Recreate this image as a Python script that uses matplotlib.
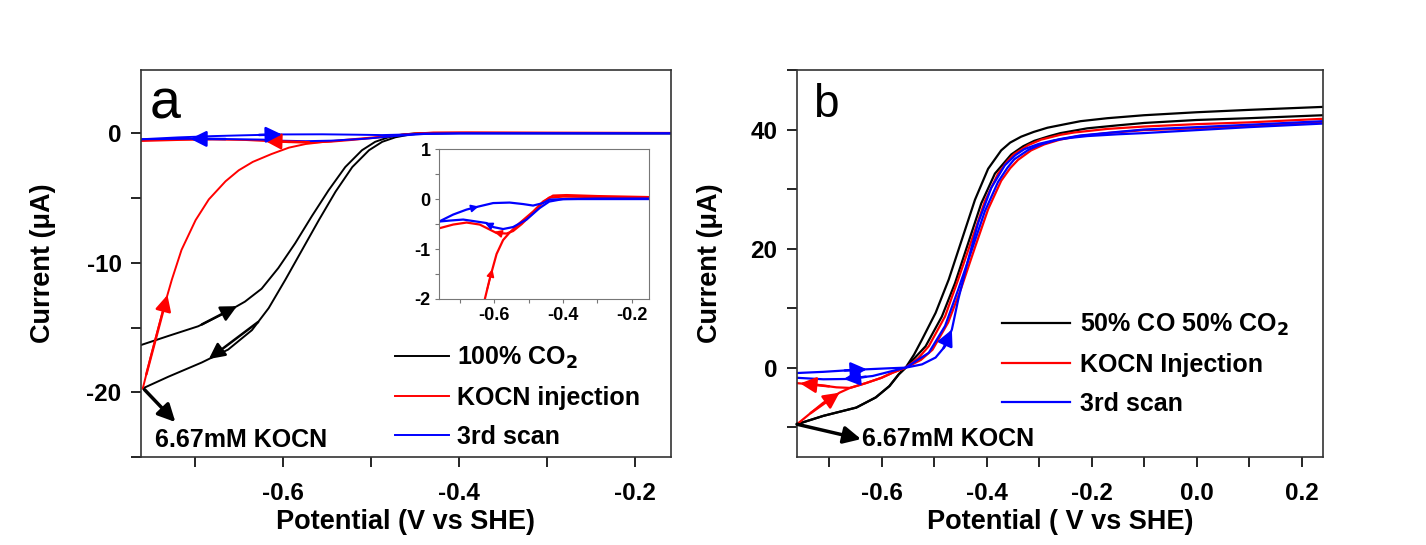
import matplotlib.pyplot as plt
import numpy as np
from matplotlib.ticker import MultipleLocator

plt.rcParams['font.family'] = ['Liberation Sans', 'DejaVu Sans']
plt.rcParams['font.weight'] = 'bold'
plt.rcParams['axes.labelweight'] = 'bold'
plt.rcParams['axes.unicode_minus'] = False

# ---- panel a : 100% CO2 ----
a_black_down_x = [-0.759, -0.730, -0.692, -0.662, -0.635, -0.616, -0.597, -0.578, -0.559, -0.540,
                  -0.521, -0.502, -0.487, -0.472, -0.455, -0.44, -0.40, -0.30, -0.20, -0.15]
a_black_down_y = [-19.7, -18.8, -17.7, -16.7, -15.2, -13.5, -11.3, -9.0, -6.7, -4.5,
                  -2.6, -1.3, -0.65, -0.3, -0.08, 0.0, 0.02, 0.01, 0.0, 0.0]
a_black_up_x = [-0.761, -0.730, -0.696, -0.665, -0.643, -0.624, -0.605, -0.586, -0.567, -0.548,
                -0.529, -0.510, -0.495, -0.480, -0.465, -0.45, -0.40, -0.30, -0.20, -0.15]
a_black_up_y = [-16.35, -15.65, -14.9, -13.85, -13.0, -12.0, -10.4, -8.5, -6.4, -4.4,
                -2.6, -1.3, -0.65, -0.3, -0.1, 0.0, 0.03, 0.02, 0.02, 0.02]
a_red_up_x = [-0.759, -0.749, -0.737, -0.726, -0.715, -0.699, -0.684, -0.665, -0.650, -0.634,
              -0.613, -0.593, -0.574, -0.555, -0.526, -0.487, -0.458, -0.429, -0.39, -0.30, -0.15]
a_red_up_y = [-19.7, -17.0, -13.9, -11.3, -9.0, -6.7, -5.1, -3.7, -2.85, -2.2,
              -1.6, -1.1, -0.82, -0.67, -0.48, -0.25, -0.05, 0.07, 0.08, 0.06, 0.04]
a_red_back_x = [-0.775, -0.757, -0.719, -0.68, -0.642, -0.613, -0.593, -0.564, -0.545, -0.52,
                -0.49, -0.46, -0.44, -0.40, -0.30, -0.15]
a_red_back_y = [-0.6, -0.58, -0.51, -0.47, -0.51, -0.61, -0.68, -0.69, -0.64, -0.5,
                -0.3, -0.08, 0.03, 0.05, 0.04, 0.03]
a_blue_fwd_x = [-0.775, -0.76, -0.719, -0.68, -0.646, -0.603, -0.555, -0.516, -0.487, -0.458,
                -0.439, -0.39, -0.30, -0.15]
a_blue_fwd_y = [-0.47, -0.45, -0.31, -0.21, -0.15, -0.08, -0.07, -0.1, -0.13, -0.08,
                -0.01, 0.0, 0.01, 0.01]
a_blue_back_x = [-0.775, -0.76, -0.728, -0.69, -0.651, -0.622, -0.603, -0.574, -0.545, -0.506,
                 -0.468, -0.44, -0.40, -0.30, -0.15]
a_blue_back_y = [-0.46, -0.45, -0.43, -0.41, -0.45, -0.48, -0.56, -0.6, -0.56, -0.41,
                 -0.18, -0.05, 0.0, 0.0, 0.0]

# ---- panel b : 50% CO 50% CO2 ----
b_black_1_x = [-0.761, -0.711, -0.648, -0.611, -0.585, -0.567, -0.554, -0.538, -0.523, -0.497,
               -0.472, -0.447, -0.422, -0.397, -0.372, -0.355, -0.334, -0.31, -0.284, -0.25,
               -0.221, -0.17, -0.10, 0.0, 0.10, 0.241]
b_black_1_y = [-9.5, -8.1, -6.7, -5.0, -3.1, -1.1, 0.0, 2.2, 4.7, 9.2,
               14.8, 21.5, 28.2, 33.4, 36.5, 37.8, 38.8, 39.6, 40.3, 40.9,
               41.4, 41.9, 42.4, 42.9, 43.3, 43.8]
b_black_2_x = [-0.761, -0.711, -0.648, -0.611, -0.585, -0.567, -0.554, -0.516, -0.485, -0.460,
               -0.435, -0.410, -0.384, -0.353, -0.33, -0.309, -0.28, -0.259, -0.208, -0.15,
               -0.10, 0.0, 0.10, 0.241]
b_black_2_y = [-9.5, -8.1, -6.7, -5.0, -3.1, -1.1, 0.0, 3.6, 8.6, 14.2,
               20.9, 27.6, 32.6, 35.8, 37.2, 38.1, 38.9, 39.4, 40.2, 40.7,
               41.1, 41.6, 41.9, 42.4]
b_red_1_x = [-0.761, -0.711, -0.680, -0.660, -0.630, -0.600, -0.579, -0.554, -0.530, -0.510,
             -0.479, -0.454, -0.428, -0.403, -0.378, -0.36, -0.347, -0.32, -0.296, -0.26,
             -0.233, -0.17, -0.10, 0.0, 0.10, 0.241]
b_red_1_y = [-9.5, -5.9, -4.2, -3.4, -2.6, -1.7, -0.85, 0.0, 1.6, 3.6,
             8.6, 14.8, 21.5, 28.0, 32.6, 34.7, 35.9, 37.4, 38.3, 39.1,
             39.5, 40.1, 40.5, 40.9, 41.2, 41.8]
b_red_2_x = [-0.761, -0.72, -0.686, -0.660, -0.630, -0.600, -0.579, -0.554, -0.525, -0.503,
             -0.473, -0.448, -0.422, -0.397, -0.372, -0.355, -0.34, -0.315, -0.29, -0.26,
             -0.225, -0.17, -0.10, 0.0, 0.10, 0.241]
b_red_2_y = [-2.6, -2.9, -3.3, -3.4, -2.6, -1.7, -0.85, 0.0, 1.3, 3.0,
             7.6, 13.4, 20.2, 26.6, 31.4, 33.5, 34.9, 36.5, 37.5, 38.3,
             38.9, 39.4, 39.9, 40.2, 40.6, 41.3]
b_blue_1_x = [-0.761, -0.711, -0.648, -0.585, -0.554, -0.523, -0.497, -0.479, -0.466, -0.454,
              -0.435, -0.416, -0.391, -0.365, -0.345, -0.328, -0.30, -0.271, -0.24, -0.208,
              -0.15, -0.10, 0.0, 0.10, 0.241]
b_blue_1_y = [-0.9, -0.7, -0.35, -0.1, 0.0, 0.55, 1.7, 3.6, 6.4, 11.4,
              18.1, 24.3, 30.2, 34.0, 35.7, 36.7, 37.6, 38.2, 38.6, 38.9,
              39.2, 39.4, 39.9, 40.4, 41.0]
b_blue_2_x = [-0.761, -0.711, -0.667, -0.617, -0.579, -0.554, -0.510, -0.479, -0.454, -0.428,
              -0.403, -0.378, -0.36, -0.347, -0.32, -0.296, -0.26, -0.221, -0.15, -0.10,
              0.0, 0.10, 0.241]
b_blue_2_y = [-1.7, -1.95, -1.9, -1.4, -0.55, 0.0, 2.5, 7.0, 13.1, 19.8,
              26.3, 31.2, 33.6, 35.0, 36.6, 37.5, 38.4, 39.0, 39.6, 40.0,
              40.4, 40.8, 41.4]

a_labels = ['100% CO$_\\mathbf{2}$', 'KOCN injection', '3rd scan']
b_labels = ['50% CO 50% CO$_\\mathbf{2}$', 'KOCN Injection', '3rd scan']
note = '6.67mM KOCN'

BLACK, RED, BLUE = '#000000', '#ff0000', '#0000ff'


def curve_arrow(ax, xs, ys, x_tail, x_head, color, scale=24, lw=1.8):
    p0 = (x_tail, np.interp(x_tail, xs, ys))
    p1 = (x_head, np.interp(x_head, xs, ys))
    ax.annotate('', xy=p1, xytext=p0,
                arrowprops=dict(arrowstyle='-|>', color=color, lw=lw,
                                mutation_scale=scale, shrinkA=0, shrinkB=0))


def style(ax, size=17.5, length=7):
    for s in ax.spines.values():
        s.set_linewidth(1.2)
        s.set_color('#333333')
    ax.tick_params(which='both', direction='out', length=length, width=1.2,
                   labelsize=size, top=False, right=False, pad=7)


fig = plt.figure(figsize=(14.26, 5.45), dpi=100)
ax1 = fig.add_axes([0.0989, 0.1615, 0.3716, 0.7101])
ax2 = fig.add_axes([0.5589, 0.1615, 0.3689, 0.7101])
axin = fig.add_axes([0.3079, 0.4514, 0.1473, 0.275])

# panel a
ax1.plot(a_black_down_x, a_black_down_y, color=BLACK, lw=1.4, label=a_labels[0])
ax1.plot(a_black_up_x, a_black_up_y, color=BLACK, lw=1.4)
ax1.plot(a_red_up_x, a_red_up_y, color=RED, lw=1.4, label=a_labels[1])
ax1.plot(a_red_back_x, a_red_back_y, color=RED, lw=1.4)
ax1.plot(a_blue_fwd_x, a_blue_fwd_y, color=BLUE, lw=1.4, label=a_labels[2])
ax1.plot(a_blue_back_x, a_blue_back_y, color=BLUE, lw=1.4)
curve_arrow(ax1, a_black_up_x, a_black_up_y, -0.692, -0.652, BLACK)
curve_arrow(ax1, a_black_down_x, a_black_down_y, -0.628, -0.684, BLACK)
curve_arrow(ax1, a_red_up_x, a_red_up_y, -0.755, -0.731, RED)
curve_arrow(ax1, a_red_back_x, a_red_back_y, -0.570, -0.620, RED)
curve_arrow(ax1, a_blue_back_x, a_blue_back_y, -0.665, -0.705, BLUE)
curve_arrow(ax1, a_blue_fwd_x, a_blue_fwd_y, -0.627, -0.601, BLUE)
ax1.annotate('', xy=(-0.722, -22.3), xytext=(-0.757, -19.8),
             arrowprops=dict(arrowstyle='-|>', color=BLACK, lw=2.5, mutation_scale=26,
                             shrinkA=0, shrinkB=0))
ax1.text(-0.745, -23.7, note, fontsize=18, va='center', ha='left')
ax1.text(0.017, 0.91, 'a', transform=ax1.transAxes, fontsize=40, fontweight='normal',
         va='center', ha='left')
ax1.set_xlim(-0.761, -0.159)
ax1.set_ylim(-25, 4.9)
ax1.xaxis.set_major_locator(MultipleLocator(0.2))
ax1.xaxis.set_minor_locator(MultipleLocator(0.1))
ax1.yaxis.set_major_locator(MultipleLocator(10))
ax1.yaxis.set_minor_locator(MultipleLocator(5))
style(ax1)
ax1.tick_params(axis='x', pad=11)
ax1.set_xlabel('Potential (V vs SHE)', fontsize=19.5, labelpad=3)
ax1.set_ylabel('Current (μA)', fontsize=19.5, labelpad=22)
ax1.legend(loc='lower left', bbox_to_anchor=(0.461, -0.005), frameon=False, fontsize=18,
           handlelength=2.15, handletextpad=0.3, labelspacing=0.6, borderaxespad=0)

# inset
axin.plot(a_red_up_x, a_red_up_y, color=RED, lw=1.6)
axin.plot(a_red_back_x, a_red_back_y, color=RED, lw=1.6)
axin.plot(a_blue_fwd_x, a_blue_fwd_y, color=BLUE, lw=1.6)
axin.plot(a_blue_back_x, a_blue_back_y, color=BLUE, lw=1.6)
curve_arrow(axin, a_red_up_x, a_red_up_y, -0.62, -0.605, RED, scale=11, lw=1.2)
curve_arrow(axin, a_red_back_x, a_red_back_y, -0.585, -0.6, RED, scale=11, lw=1.2)
curve_arrow(axin, a_blue_fwd_x, a_blue_fwd_y, -0.66, -0.645, BLUE, scale=11, lw=1.2)
curve_arrow(axin, a_blue_back_x, a_blue_back_y, -0.61, -0.627, BLUE, scale=11, lw=1.2)
axin.set_xlim(-0.76, -0.15)
axin.set_ylim(-2, 1)
axin.xaxis.set_major_locator(MultipleLocator(0.2))
axin.xaxis.set_minor_locator(MultipleLocator(0.1))
axin.yaxis.set_major_locator(MultipleLocator(1))
axin.yaxis.set_minor_locator(MultipleLocator(0.5))
style(axin, size=13, length=3)
for s in axin.spines.values():
    s.set_linewidth(0.8)
    s.set_color('#777777')
axin.tick_params(which='both', width=0.8, color='#777777', pad=3)

# panel b
ax2.plot(b_black_1_x, b_black_1_y, color=BLACK, lw=1.6, label=b_labels[0])
ax2.plot(b_black_2_x, b_black_2_y, color=BLACK, lw=1.6)
ax2.plot(b_red_1_x, b_red_1_y, color=RED, lw=1.6, label=b_labels[1])
ax2.plot(b_red_2_x, b_red_2_y, color=RED, lw=1.6)
ax2.plot(b_blue_1_x, b_blue_1_y, color=BLUE, lw=1.6, label=b_labels[2])
ax2.plot(b_blue_2_x, b_blue_2_y, color=BLUE, lw=1.6)
curve_arrow(ax2, b_red_1_x, b_red_1_y, -0.735, -0.68, RED)
curve_arrow(ax2, b_red_2_x, b_red_2_y, -0.70, -0.755, RED)
curve_arrow(ax2, b_blue_1_x, b_blue_1_y, -0.67, -0.628, BLUE)
curve_arrow(ax2, b_blue_2_x, b_blue_2_y, -0.63, -0.672, BLUE)
curve_arrow(ax2, b_blue_1_x, b_blue_1_y, -0.482, -0.466, BLUE)
ax2.annotate('', xy=(-0.639, -12.0), xytext=(-0.761, -9.5),
             arrowprops=dict(arrowstyle='-|>', color=BLACK, lw=2.5, mutation_scale=26,
                             shrinkA=0, shrinkB=0))
ax2.text(-0.637, -12.0, note, fontsize=18, va='center', ha='left')
ax2.text(0.03, 0.91, 'b', transform=ax2.transAxes, fontsize=33, fontweight='normal',
         va='center', ha='left')
ax2.set_xlim(-0.761, 0.241)
ax2.set_ylim(-15, 50)
ax2.xaxis.set_major_locator(MultipleLocator(0.2))
ax2.xaxis.set_minor_locator(MultipleLocator(0.1))
ax2.yaxis.set_major_locator(MultipleLocator(20))
ax2.yaxis.set_minor_locator(MultipleLocator(10))
style(ax2)
ax2.tick_params(axis='x', pad=11)
ax2.set_xlabel('Potential ( V vs SHE)', fontsize=19.5, labelpad=3)
ax2.set_ylabel('Current (μA)', fontsize=19.5, labelpad=20)
ax2.legend(loc='lower left', bbox_to_anchor=(0.371, 0.08), frameon=False, fontsize=18,
           handlelength=2.7, handletextpad=0.4, labelspacing=0.6, borderaxespad=0)

fig.savefig('out.png', dpi=100)
